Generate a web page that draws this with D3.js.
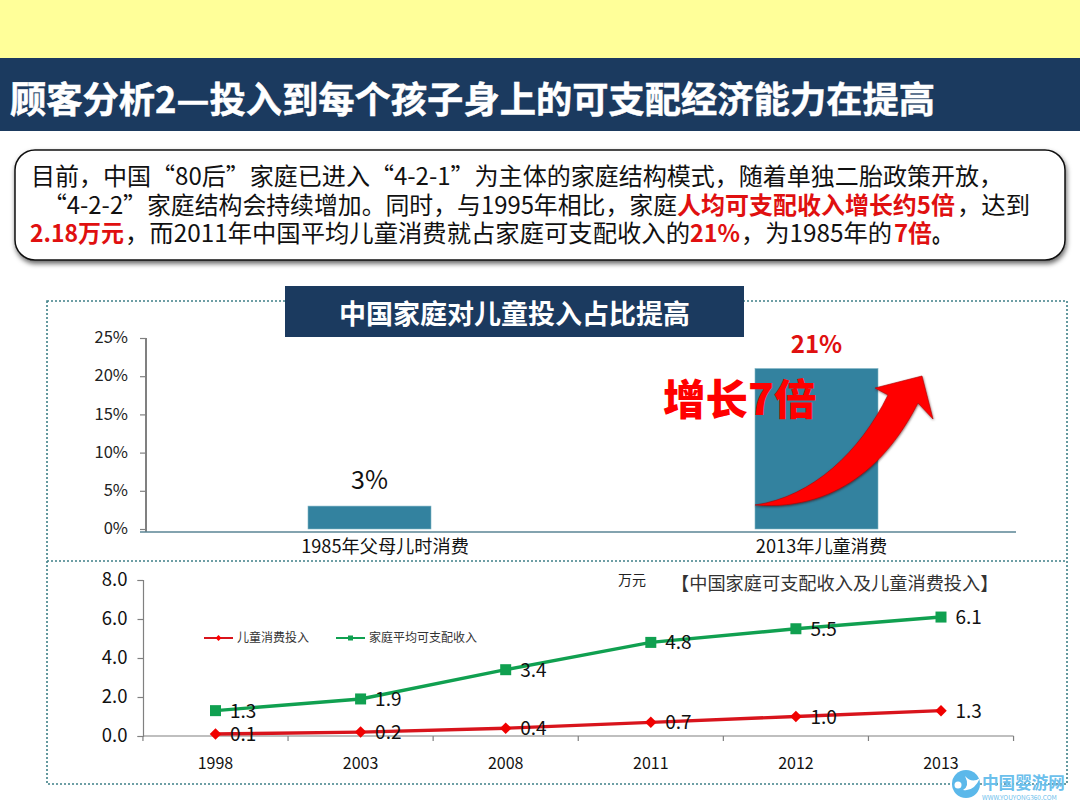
<!DOCTYPE html>
<html><head><meta charset="utf-8">
<script src="https://cdn.jsdelivr.net/npm/d3@7"></script>
<style>html,body{margin:0;padding:0;background:#fff}svg{display:block}text{font-family:"Noto Sans CJK SC","Noto Sans",sans-serif}</style>
</head><body><svg id="c" width="1080" height="810"></svg>
<script>
const barCategories=["1985年父母儿时消费","2013年儿童消费"];
const barValues=[3,21];
const barLabels=["3%","21%"];
const barTicks=[0,5,10,15,20,25];
const years=["1998","2003","2008","2011","2012","2013"];
const childSpend=[0.1,0.2,0.4,0.7,1.0,1.3];
const familyIncome=[1.3,1.9,3.4,4.8,5.5,6.1];
const lineTicks=[0,2,4,6,8];
const RED="#ff0000",DARK="#1b3a5f",TEAL="#33829f",GREEN="#10a050",LRED="#d8141c",TXTRED="#e01010";
const svg=d3.select("#c");
const defs=svg.append("defs");
const f=defs.append("filter").attr("id","sh").attr("x","-5%").attr("y","-10%").attr("width","110%").attr("height","125%");
f.append("feDropShadow").attr("dx",1).attr("dy",3).attr("stdDeviation",2.5).attr("flood-color","#000").attr("flood-opacity",.6);
const f2=defs.append("filter").attr("id","sh2").attr("x","-10%").attr("y","-10%").attr("width","120%").attr("height","120%");
f2.append("feDropShadow").attr("dx",0.5).attr("dy",1).attr("stdDeviation",1).attr("flood-color","#300").attr("flood-opacity",.6);
// header bands
svg.append("rect").attr("width",1080).attr("height",58).attr("fill","#ffff99");
svg.append("rect").attr("y",58).attr("width",1080).attr("height",73).attr("fill",DARK);
svg.append("text").attr("x",10).attr("y",112.5).attr("fill","#fff").attr("font-size",36.5).attr("font-weight",700)
  .attr("stroke","#fff").attr("stroke-width",.5).attr("textLength",925).attr("lengthAdjust","spacingAndGlyphs")
  .text("顾客分析2—投入到每个孩子身上的可支配经济能力在提高");
// intro box
svg.append("rect").attr("x",15).attr("y",150).attr("width",1050).attr("height",110).attr("rx",20).attr("fill","#fff").attr("stroke","#111").attr("stroke-width",1.5).attr("filter","url(#sh)");
const introParts=[
 [185,31,972,"目前，中国“80后”家庭已进入“4-2-1”为主体的家庭结构模式，随着单独二胎政策开放，",0],
 [214,43,634,"“4-2-2”家庭结构会持续增加。同时，与1995年相比，家庭",0],
 [214,677,278,"人均可支配收入增长约5倍",1],
 [214,957,73,"，达到",0],
 [242,30,94,"2.18万元",1],
 [242,125,565,"，而2011年中国平均儿童消费就占家庭可支配收入的",0],
 [242,690,50,"21%",1],
 [242,741,151,"，为1985年的",0],
 [242,894,38,"7倍",1],
 [242,932,20,"。",2]];
introParts.forEach(([y,x,w,t,k])=>svg.append("text").attr("x",x).attr("y",y).attr("font-size",24)
  .attr("textLength",w).attr("lengthAdjust","spacingAndGlyphs")
  .attr("fill",k==1?TXTRED:"#111").attr("font-weight",k?700:400).text(t));
// dotted frames: outer box and one divider, so the shared edge is not drawn twice
const dotted=s=>s.attr("fill","none").attr("stroke","#3f8088").attr("stroke-width",1.6).attr("stroke-dasharray","2 2");
dotted(svg.append("rect").attr("x",47).attr("y",301).attr("width",1020).attr("height",483));
dotted(svg.append("line").attr("x1",47).attr("x2",1067).attr("y1",561).attr("y2",561));
// caption
svg.append("rect").attr("x",285).attr("y",286).attr("width",459).attr("height",51).attr("fill",DARK);
svg.append("text").attr("x",514.5).attr("y",324).attr("text-anchor","middle").attr("fill","#fff").attr("font-size",27).attr("font-weight",700).text("中国家庭对儿童投入占比提高");
// bar chart
const by=d3.scaleLinear().domain([0,25]).range([529,338]);
const bx=d3.scaleBand().domain(barCategories).range([146,1040]);
const barW=123;
const gy=svg.append("g").attr("transform","translate(146,0)").call(d3.axisLeft(by).tickValues(barTicks).tickFormat(d=>d+"%").tickSize(6).tickPadding(12));
gy.selectAll(".tick line").attr("stroke","#808080").attr("stroke-width",1.2);
gy.select(".domain").attr("d","M0,338V532").attr("stroke","#808080").attr("stroke-width",2);
gy.selectAll("text").attr("font-size",16.5).attr("fill","#222").attr("dy","0.28em");
const gx=svg.append("g").attr("transform","translate(0,532)").call(d3.axisBottom(bx).tickSize(0).tickPadding(8));
gx.select(".domain").attr("d","M140,0H1016").attr("stroke","#5a8494").attr("stroke-width",1.3);
gx.selectAll("text").attr("font-size",18.2).attr("fill","#111").attr("dx",(d,i)=>i==0?15.5:5);
const barCx=(i)=>bx(barCategories[i])+bx.bandwidth()/2;
svg.append("g").selectAll("rect").data(barValues).join("rect")
 .attr("x",(d,i)=>barCx(i)-barW/2).attr("y",d=>by(d)).attr("width",barW).attr("height",d=>by(0)-by(d))
 .attr("fill",TEAL).attr("stroke","#7fb4c4").attr("stroke-width",.6);
svg.append("text").attr("x",barCx(0)).attr("y",by(barValues[0])-17).attr("text-anchor","middle").attr("font-size",25).attr("fill","#111").text(barLabels[0]);
svg.append("text").attr("x",barCx(1)).attr("y",by(barValues[1])-16).attr("text-anchor","middle").attr("font-size",24).attr("font-weight",700).attr("fill",TXTRED).text(barLabels[1]);
// arrow
svg.append("path").attr("d","M755,505 C812,497 860,452 888,395 L875,388 L922,376 L933,419 L918,403 C893,452 845,512 755,505Z")
 .attr("fill",RED).attr("stroke","#b00808").attr("stroke-width",.6).attr("filter","url(#sh2)");
svg.append("text").attr("x",663).attr("y",415).attr("font-size",42.5).attr("font-weight",900).attr("fill",RED).text("增长7倍");
// line chart
const ly=d3.scaleLinear().domain([0,8]).range([736,580]);
const lx=d3.scalePoint().domain(years).range([215.5,941]);
const gly=svg.append("g").attr("transform","translate(143,0)").call(d3.axisLeft(ly).tickValues(lineTicks).tickFormat(d3.format(".1f")).tickSize(5.5).tickPadding(10));
gly.selectAll("path,line").attr("stroke","#808080").attr("stroke-width",1.2);
gly.selectAll("text").attr("font-size",18.5).attr("fill","#111");
const xEdges=d3.range(years.length+1).map(i=>lx(years[0])-lx.step()/2+i*lx.step());
const glx=svg.append("g").attr("transform","translate(0,736)");
glx.append("line").attr("x1",xEdges[0]).attr("x2",xEdges[6]).attr("stroke","#808080").attr("stroke-width",1.2);
glx.selectAll(".t").data(xEdges).join("line").attr("x1",d=>d).attr("x2",d=>d).attr("y2",5).attr("stroke","#808080").attr("stroke-width",1.2);
glx.selectAll("text").data(years).join("text").attr("x",d=>lx(d)).attr("y",33).attr("text-anchor","middle").attr("font-size",16).attr("fill","#111").text(d=>d);
const ln=d3.line().x((d,i)=>lx(years[i])).y(d=>ly(d));
svg.append("path").attr("d",ln(childSpend)).attr("fill","none").attr("stroke",LRED).attr("stroke-width",3.4);
svg.append("path").attr("d",ln(familyIncome)).attr("fill","none").attr("stroke",GREEN).attr("stroke-width",3.4);
svg.append("g").selectAll("path").data(childSpend).join("path").attr("d",d3.symbol(d3.symbolDiamond2,85)).attr("fill","#f00000").attr("transform",(d,i)=>`translate(${lx(years[i])},${ly(d)})`);
svg.append("g").selectAll("rect").data(familyIncome).join("rect").attr("x",(d,i)=>lx(years[i])-5.5).attr("y",d=>ly(d)-5.5).attr("width",11).attr("height",11).attr("fill",GREEN);
const lab=(arr)=>svg.append("g").selectAll("text").data(arr).join("text").attr("x",(d,i)=>lx(years[i])+14.5).attr("y",d=>ly(d)+7).attr("font-size",19).attr("fill","#111").text(d=>d.toFixed(1));
lab(childSpend);lab(familyIncome);
// legend
const leg=[["儿童消费投入",204,LRED,0],["家庭平均可支配收入",336,GREEN,1]];
leg.forEach(([t,x,c,k])=>{svg.append("line").attr("x1",x).attr("x2",x+29).attr("y1",638).attr("y2",638).attr("stroke",c).attr("stroke-width",2);
 if(k)svg.append("rect").attr("x",x+12).attr("y",635.5).attr("width",5).attr("height",5).attr("fill",c);
 else svg.append("path").attr("d",d3.symbol(d3.symbolDiamond2,22)).attr("fill","#f00").attr("transform",`translate(${x+14.5},638)`);
 svg.append("text").attr("x",x+33).attr("y",642).attr("font-size",12).attr("fill","#333").text(t);});
svg.append("text").attr("x",618).attr("y",585).attr("font-size",14).attr("fill","#222").text("万元");
svg.append("text").attr("x",671).attr("y",590).attr("font-size",18.2).attr("fill","#333").text("【中国家庭可支配收入及儿童消费投入】");
// watermark
const wm=svg.append("g");
wm.append("circle").attr("cx",966).attr("cy",784).attr("r",14).attr("fill","#5bb8ea");
wm.append("circle").attr("cx",958).attr("cy",785).attr("r",3.5).attr("fill","#fff");
wm.append("path").attr("d","M965,776 Q972,784 980,778 Q974,792 963,790 Q970,786 965,776Z").attr("fill","#fff");
wm.append("text").attr("x",982).attr("y",789).attr("font-size",16.6).attr("font-weight",700).attr("fill","#6cc0ec").text("中国婴游网");
wm.append("text").attr("x",982).attr("y",800).attr("font-size",6.5).attr("fill","#6cc0ec").text("WWW.YOUYONG360.COM");
</script></body></html>
